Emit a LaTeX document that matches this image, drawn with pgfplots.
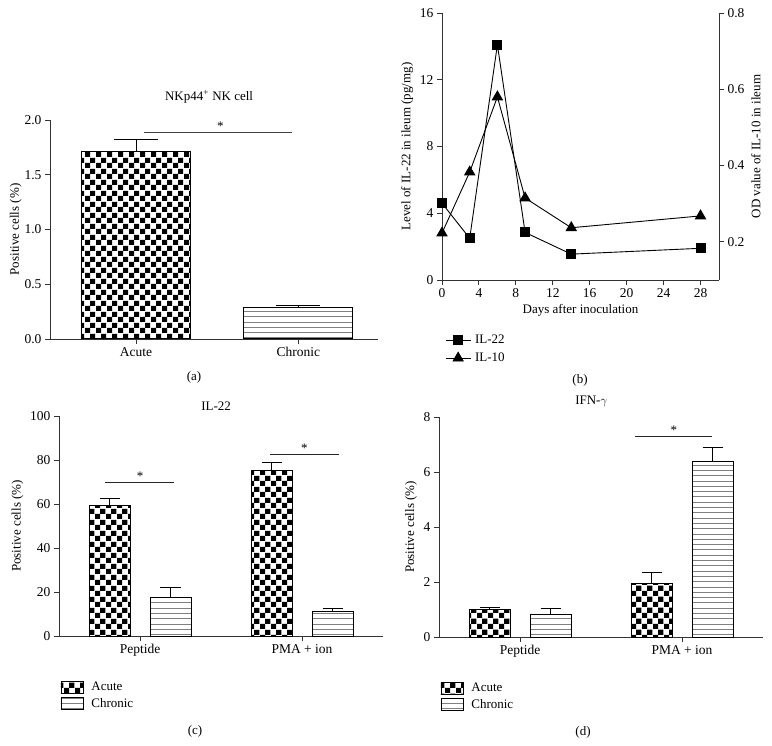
\documentclass[border=0pt]{standalone}
\usepackage{fontspec}
\setmainfont{Liberation Serif}
\usepackage{pgfplots}
\pgfplotsset{compat=1.18}
\usetikzlibrary{patterns}

% checkerboard and horizontal stripes, as in the GraphPad bars
\pgfdeclarepatternformonly{checker}{\pgfpointorigin}{\pgfqpoint{10.6pt}{10.6pt}}{\pgfqpoint{10.6pt}{10.6pt}}{%
  \pgfpathrectangle{\pgfpointorigin}{\pgfqpoint{5.3pt}{5.3pt}}%
  \pgfpathrectangle{\pgfqpoint{5.3pt}{5.3pt}}{\pgfqpoint{5.3pt}{5.3pt}}%
  \pgfusepath{fill}}
\pgfdeclarepatternformonly{hstripes}{\pgfqpoint{-0.5pt}{-1pt}}{\pgfqpoint{10.5pt}{1pt}}{\pgfqpoint{10pt}{5.3pt}}{%
  \pgfsetlinewidth{0.9pt}%
  \pgfpathmoveto{\pgfqpoint{-0.5pt}{0pt}}\pgfpathlineto{\pgfqpoint{10.5pt}{0pt}}%
  \pgfusepath{stroke}}

\newcommand{\lbl}{\fontsize{13}{15}\selectfont}
\newcommand{\tkl}{\fontsize{13.5}{16}\selectfont}

\pgfplotsset{
  panel/.style={
    scale only axis, anchor=south west,
    axis lines*=left,
    tick align=outside,
    major tick length=5pt,
    axis line style={black!80, line width=0.9pt},
    every tick/.style={black!80, line width=0.9pt},
    tick label style={font=\tkl},
    label style={font=\lbl},
    title style={font=\lbl},
    /pgf/number format/assume math mode=true,
    clip=false,
  },
  onedec/.style={yticklabel style={/pgf/number format/.cd, fixed, fixed zerofill, precision=1}},
  errs/.style={
    error bars/y dir=plus, error bars/y explicit,
    error bars/error mark=|,
    error bars/error bar style={black, line width=1pt},
    error bars/error mark options={black, line width=1pt, mark size=#1},
  },
  acute/.style={draw=black, line width=1pt, pattern=checker, bar width=41pt, errs=10pt},
  chronic/.style={draw=black, line width=1pt, pattern=hstripes, pattern color=black!50, bar width=41pt, errs=10pt},
  boxlegend/.style={
    legend style={draw=none, fill=none, font=\lbl, row sep=2pt, column sep=6pt,
      legend cell align=left},
    legend image code/.code={\draw[##1, line width=0.8pt] (0pt,-6pt) rectangle (22pt,6pt);},
  },
  linelegend/.style={
    legend style={draw=none, fill=none, font=\lbl, row sep=4pt, column sep=2pt,
      legend cell align=left},
    legend image code/.code={\draw[mark repeat=2, mark phase=2, ##1]
      plot coordinates {(0pt,0pt) (12.5pt,0pt) (25pt,0pt)};},
  },
}

\begin{document}
\begin{tikzpicture}
\useasboundingbox (0,0) rectangle (772pt,-746pt);

% (a)
\begin{axis}[panel, onedec, ybar,
  at={(50pt,-339pt)}, width=328pt, height=219pt,
  xmin=-0.53, xmax=1.49, ymin=0, ymax=2, ytick={0,0.5,1,1.5,2},
  xtick={0,1}, xticklabels={Acute,Chronic},
  ylabel={Positive cells (\%)}, ylabel shift=-4pt,
  title={NKp44\textsuperscript{+} NK cell}, title style={at={(0.485,1.078)}, anchor=center}]
\addplot[draw=black, line width=1pt, pattern=checker, bar width=109pt, bar shift=0pt, errs=22pt]
  coordinates {(0,1.71) +- (0,0.11)};
\addplot[draw=black, line width=1pt, pattern=hstripes, pattern color=black!50, bar width=109pt, bar shift=0pt, errs=22pt]
  coordinates {(1,0.29) +- (0,0.02)};
\draw[black!75, line width=0.9pt] (axis cs:0.05,1.89) -- (axis cs:0.963,1.89);
\node[font=\lbl, anchor=base, inner sep=0pt] at ([yshift=2pt]axis cs:0.52,1.89) {*};
\end{axis}

% (b) left axis
\begin{axis}[panel,
  at={(442pt,-280pt)}, width=277pt, height=267pt,
  xmin=0, xmax=30, xtick={0,4,...,28},
  ymin=0, ymax=16, ytick={0,4,...,16},
  xlabel={Days after inoculation},
  ylabel={Level of IL-22 in ileum (pg/mg)}]
\addplot[black, line width=0.9pt, mark=square*, mark size=4.5pt]
  coordinates {(0,4.6) (3,2.5) (6,14.1) (9,2.85) (14,1.55) (28,1.9)};
\end{axis}
% (b) right axis
\begin{axis}[panel, onedec, linelegend, axis x line=none, axis y line*=right,
  at={(442pt,-280pt)}, width=277pt, height=267pt,
  xmin=0, xmax=30,
  ymin=0.1, ymax=0.8, ytick={0.2,0.4,0.6,0.8},
  ylabel={OD value of IL-10 in ileum},
  legend style={at={(0.0,-0.19)}, anchor=north west}]
\addlegendimage{black, line width=0.9pt, mark=square*, mark size=4.5pt}
\addlegendentry{IL-22}
\addplot[black, line width=0.9pt, mark=triangle*, mark size=5.8pt]
  coordinates {(0,0.223) (3,0.383) (6,0.58) (9,0.315) (14,0.237) (28,0.268)};
\addlegendentry{IL-10}
\end{axis}

% (c)
\begin{axis}[panel, ybar, boxlegend,
  at={(59pt,-636pt)}, width=324pt, height=220pt,
  xmin=-0.5, xmax=1.5, ymin=0, ymax=100, ytick={0,20,...,100},
  xtick={0,1}, xticklabels={Peptide, PMA + ion},
  ylabel={Positive cells (\%)},
  title={IL-22}, title style={at={(0.485,1.018)}, anchor=center},
  legend style={at={(-0.005,-0.19)}, anchor=north west}]
\addplot[acute, bar shift=-30.5pt] coordinates {(0,59.1) +- (0,3.6) (1,75.2) +- (0,3.6)};
\addplot[chronic, bar shift=30.5pt] coordinates {(0,17.4) +- (0,4.6) (1,11.1) +- (0,1.6)};
\legend{Acute, Chronic}
\draw[black!85, line width=0.9pt] (axis cs:-0.216,70) -- (axis cs:0.21,70);
\node[font=\lbl, anchor=base, inner sep=0pt] at ([yshift=2pt]axis cs:0,70) {*};
\draw[black!85, line width=0.9pt] (axis cs:0.802,82.3) -- (axis cs:1.228,82.3);
\node[font=\lbl, anchor=base, inner sep=0pt] at ([yshift=2pt]axis cs:1.015,82.3) {*};
\end{axis}

% (d)
\begin{axis}[panel, ybar, boxlegend,
  at={(439pt,-637pt)}, width=324pt, height=220pt,
  xmin=-0.5, xmax=1.5, ymin=0, ymax=8, ytick={0,2,...,8},
  xtick={0,1}, xticklabels={Peptide, PMA + ion},
  ylabel={Positive cells (\%)},
  title={IFN-$\gamma$}, title style={at={(0.47,1.045)}, anchor=center},
  legend style={at={(-0.005,-0.19)}, anchor=north west}]
\addplot[acute, bar shift=-30.5pt] coordinates {(0,1.0) +- (0,0.09) (1,1.95) +- (0,0.38)};
\addplot[chronic, bar shift=30.5pt] coordinates {(0,0.81) +- (0,0.24) (1,6.37) +- (0,0.51)};
\legend{Acute, Chronic}
\draw[black!85, line width=0.9pt] (axis cs:0.712,7.28) -- (axis cs:1.184,7.28);
\node[font=\lbl, anchor=base, inner sep=0pt] at ([yshift=2pt]axis cs:0.95,7.28) {*};
\end{axis}

\node[font=\lbl] at (194pt,-377pt) {(a)};
\node[font=\lbl] at (580pt,-380pt) {(b)};
\node[font=\lbl] at (195pt,-731pt) {(c)};
\node[font=\lbl] at (583pt,-732pt) {(d)};
\end{tikzpicture}
\end{document}
